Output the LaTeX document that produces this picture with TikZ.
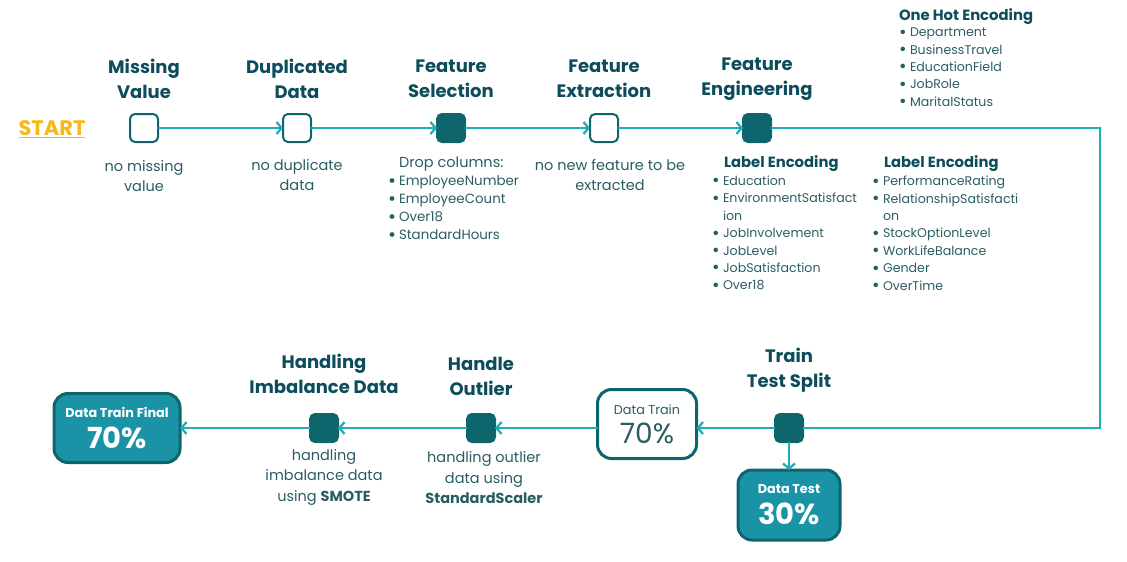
\documentclass[tikz,border=0pt]{standalone}
\usepackage{fontspec}
\usepackage{graphicx}
\setmainfont{Poppins}
\usetikzlibrary{arrows.meta}
\definecolor{dteal}{HTML}{0F656C}
\definecolor{hteal}{HTML}{0D4D5B}
\definecolor{lteal}{HTML}{21ADB6}
\definecolor{mteal}{HTML}{1A93A6}
\definecolor{txteal}{HTML}{2A5D63}
\definecolor{gold}{HTML}{F7B918}
\newcommand{\bl}{\makebox[11pt][l]{\raisebox{-0.2ex}{\scalebox{1.45}{\textbullet}}}}
\newcommand{\ind}{\hspace*{11pt}}

\begin{document}
\begin{tikzpicture}[x=1pt, y=-1pt,
        every node/.style={inner sep=0pt, outer sep=0pt},
        stage/.style={draw=dteal, line width=2pt, fill=white, rounded corners=5pt, minimum size=28pt},
        stagefull/.style={stage, fill=dteal},
        title/.style={font=\fontsize{18}{25}\selectfont\bfseries, text=hteal, align=center},
        desc/.style={font=\fontsize{14.5}{20.5}\selectfont, text=txteal, align=center},
        subhead/.style={font=\fontsize{14.8}{18}\selectfont\bfseries, text=hteal, anchor=west},
        list/.style={font=\fontsize{12.6}{17.4}\selectfont, text=txteal, align=left, anchor=north west},
        result/.style={draw=dteal, line width=3pt, rounded corners=14pt, align=center},
        line/.style={draw=lteal, line width=2.3pt},
        flow/.style={line, -{Straight Barb[length=5pt, width=12pt]}}
      ]
        \useasboundingbox (0,0) rectangle (1127,562);

        % top row
        \node[font=\fontsize{21}{24}\selectfont\bfseries, text=gold] (start) at (52,129) {\underline{START}};
        \node[stage] (mv) at (144,128) {};
        \node[stage] (dd) at (297,128) {};
        \node[stagefull] (fs) at (451,128) {};
        \node[stage] (fx) at (604,128) {};
        \node[stagefull] (fe) at (757,128) {};

        \node[title] (mvt) at (144,79) {Missing\\Value};
        \node[title] (ddt) at (297,79) {Duplicated\\Data};
        \node[title] (fst) at (451,79) {Feature\\Selection};
        \node[title] (fxt) at (604,79) {Feature\\Extraction};
        \node[title] (fet) at (757,79) {Feature\\Engineering};

        \node[desc] (mvd) at (144,176) {no missing\\value};
        \node[desc] (ddd) at (297,175) {no duplicate\\data};
        \node[desc] (fxd) at (610,175) {no new feature to be\\extracted};

        % drop columns
        \node[desc, anchor=west] (fsd) at (399,164) {Drop columns:};
        \node[list, font=\fontsize{13.4}{18}\selectfont] (fsl) at (388,176) {\bl EmployeeNumber\\\bl EmployeeCount\\\bl Over18\\\bl StandardHours};

        % encodings
        \node[subhead] (oht) at (899,17) {One Hot Encoding};
        \node[list] (ohl) at (899,28) {\bl Department\\\bl BusinessTravel\\\bl EducationField\\\bl JobRole\\\bl MaritalStatus};
        \node[subhead] (le1t) at (724,164) {Label Encoding};
        \node[list] (le1l) at (712,176) {\bl Education\\\bl EnvironmentSatisfact\\\ind ion\\\bl JobInvolvement\\\bl JobLevel\\\bl JobSatisfaction\\\bl Over18};
        \node[subhead] (le2t) at (884,164) {Label Encoding};
        \node[list] (le2l) at (872,176) {\bl PerformanceRating\\\bl RelationshipSatisfacti\\\ind on\\\bl StockOptionLevel\\\bl WorkLifeBalance\\\bl Gender\\\bl OverTime};

        % bottom row
        \node[stagefull] (tts) at (789,428) {};
        \node[stagefull] (ho) at (481,428) {};
        \node[stagefull] (hi) at (324,428) {};
        \node[result, fill=white, text=txteal, minimum width=99pt, minimum height=69pt] (dtrain) at (647,424)
          {{\fontsize{12.8}{14}\selectfont Data Train}\\[7pt]{\fontsize{28}{28}\selectfont 70\%}};
        \node[result, fill=mteal, text=white, font=\bfseries, minimum width=126pt, minimum height=69pt] (dfinal) at (117,428)
          {{\fontsize{12.8}{14}\selectfont Data Train Final}\\[8pt]{\fontsize{29}{28}\selectfont 70\%}};
        \node[result, fill=mteal, text=white, font=\bfseries, minimum width=102pt, minimum height=70pt] (dtest) at (789,505)
          {{\fontsize{12.8}{14}\selectfont Data Test}\\[8pt]{\fontsize{29}{28}\selectfont 30\%}};

        \node[title] (ttst) at (789,370) {Train\\Test Split};
        \node[title] (hot) at (481,376) {Handle\\Outlier};
        \node[title] (hit) at (324,374) {Handling\\Imbalance Data};

        \node[desc] (hod) at (484,478) {handling outlier\\data using\\\textbf{StandardScaler}};
        \node[desc] (hid) at (324,477) {handling\\imbalance data\\using \textbf{SMOTE}};

        % connectors
        \coordinate (c1) at (1100,128);
        \draw[flow] (mv) -- (dd);
        \draw[flow] (dd) -- (fs);
        \draw[flow] (fs) -- (fx);
        \draw[flow] (fx) -- (fe);
        \draw[line] (fe) -- (c1) |- (tts);
        \draw[flow] (tts) -- (dtrain.east |- tts);
        \draw[flow] (dtrain.west |- ho) -- (ho);
        \draw[flow] (ho) -- (hi);
        \draw[flow] (hi) -- (dfinal);
        \draw[flow] (tts) -- (dtest);

    \end{tikzpicture}
\end{document}
